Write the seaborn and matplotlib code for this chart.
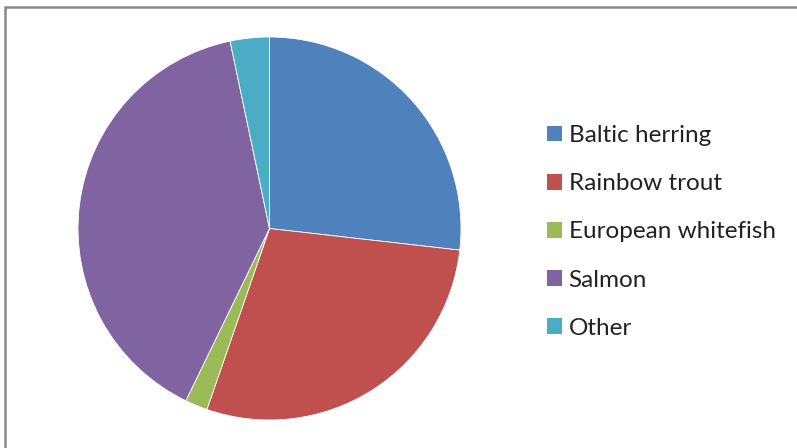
import matplotlib
matplotlib.use("Agg")
import matplotlib.pyplot as plt
from matplotlib.patches import Rectangle, Patch
import seaborn as sns

# Catch shares by species (%)
species = ["Baltic herring", "Rainbow trout", "European whitefish", "Salmon", "Other"]
shares = [26.8, 28.5, 1.9, 39.5, 3.3]
colors = ["#4F81BD", "#C0504D", "#9BBB59", "#8064A2", "#4BACC6"]

sns.set_theme(style="white")
plt.rcParams["font.family"] = ["Lato", "DejaVu Sans"]

W, H = 797, 448
fig = plt.figure(figsize=(W / 100, H / 100), dpi=100)
fig.patch.set_facecolor("white")

# Chart-area frame (extends past the right and bottom edges)
fig.patches.append(Rectangle((5 / W, -0.05), 1.1, (H - 7.5) / H + 0.05,
                             transform=fig.transFigure, fill=False,
                             edgecolor="#888888", linewidth=1.8, zorder=0))

R = 191.5
cx, cy = 269.5, 228.5
ax = fig.add_axes([(cx - R) / W, (H - cy - R) / H, 2 * R / W, 2 * R / H])
palette = sns.color_palette(colors)
ax.pie(shares, colors=palette, startangle=90, counterclock=False,
       radius=1, wedgeprops=dict(linewidth=0.6, edgecolor="white"))
ax.set_xlim(-1, 1)
ax.set_ylim(-1, 1)
ax.set_axis_off()

handles = [Patch(facecolor=c, edgecolor="none") for c in palette]
fig.legend(handles, species, loc="upper left",
           bbox_to_anchor=(547 / W, (H - 125) / H),
           frameon=False, fontsize=17.5, handlelength=0.62, handleheight=0.62,
           handletextpad=0.27, labelspacing=1.12, borderpad=0, borderaxespad=0,
           labelcolor="#222222")

fig.savefig("out.png", dpi=100)
